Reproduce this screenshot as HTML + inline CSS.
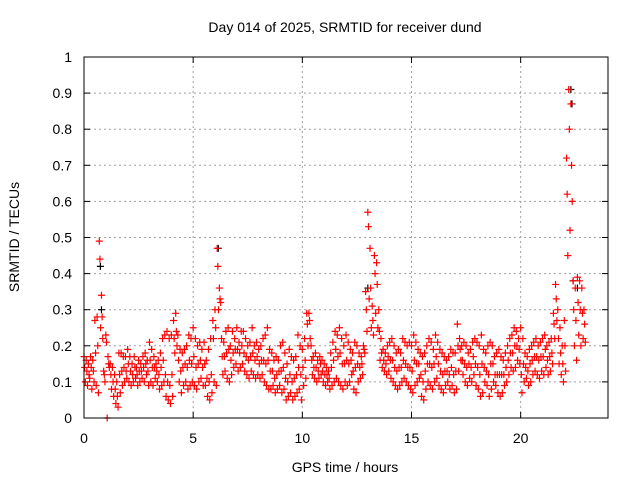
<!DOCTYPE html>
<html><head><meta charset="utf-8"><style>
html,body{margin:0;padding:0;background:#fff;}
svg{display:block;font-family:"Liberation Sans",sans-serif;}
</style></head><body>
<svg id="chart" width="640" height="480">
<rect width="640" height="480" fill="#fff"/>
<text x="345" y="32" font-size="14" text-anchor="middle">Day 014 of 2025, SRMTID for receiver dund</text>
<text x="345" y="472" font-size="14" text-anchor="middle">GPS time / hours</text>
<text transform="translate(19,237) rotate(-90)" font-size="14" text-anchor="middle">SRMTID / TECUs</text>
<g id="grid"></g>
<g id="ticks"></g>
<g id="black"></g>
<g id="red"></g>
<rect x="84" y="57" width="524" height="361" fill="none" stroke="#000" stroke-width="1"/>
</svg>
<script>
const xTicks=[0,5,10,15,20];
const yTicks=[0,0.1,0.2,0.3,0.4,0.5,0.6,0.7,0.8,0.9,1];
const yTickLabels=["0","0.1","0.2","0.3","0.4","0.5","0.6","0.7","0.8","0.9","1"];
const timeStep=0.1;
const redUpper=[.17,.16,.15,.17,.16,.27,.28,.49,.34,.13,
.23,.17,.15,.14,.12,.10,.18,.18,.17,.17,
.19,.17,.15,.17,.14,.16,.15,.17,.18,.16,
.21,.19,.17,.15,.16,.18,.22,.23,.24,.22,
.23,.27,.29,.23,.19,.18,.19,.20,.23,.22,
.25,.22,.20,.21,.19,.21,.16,.19,.22,.27,
.30,.47,.36,.22,.21,.24,.25,.20,.24,.22,
.25,.21,.24,.24,.22,.20,.21,.25,.20,.21,
.19,.20,.22,.23,.25,.19,.18,.16,.17,.16,
.20,.21,.18,.15,.19,.17,.16,.17,.23,.20,
.19,.22,.29,.29,.20,.17,.18,.16,.17,.16,
.15,.14,.13,.18,.21,.24,.23,.25,.22,.20,
.23,.21,.19,.18,.21,.20,.18,.17,.20,.35,
.57,.47,.31,.45,.43,.30,.22,.19,.18,.20,
.21,.22,.20,.18,.19,.18,.22,.21,.20,.21,
.20,.23,.21,.19,.18,.17,.18,.20,.22,.21,
.19,.23,.21,.19,.18,.17,.16,.17,.19,.18,
.18,.26,.22,.20,.21,.20,.18,.19,.21,.22,
.21,.20,.23,.19,.18,.20,.21,.20,.17,.18,
.19,.17,.16,.18,.20,.22,.23,.25,.24,.22,
.25,.22,.18,.17,.19,.20,.21,.22,.20,.21,
.22,.23,.20,.21,.22,.29,.37,.30,.25,.20,
.27,.72,.91,.87,.38,.36,.39,.38,.36,.30];
const redMid=[.14,.13,.12,.14,.13,.18,.20,.44,.28,.12,
.21,.15,.12,.10,.08,.06,.12,.13,.14,.13,
.15,.13,.12,.14,.12,.13,.13,.14,.15,.13,
.16,.14,.14,.13,.12,.14,.16,.12,.10,.09,
.12,.22,.24,.16,.13,.14,.15,.14,.16,.15,
.17,.14,.15,.16,.14,.15,.11,.10,.12,.22,
.25,.42,.33,.17,.17,.18,.19,.16,.18,.19,
.19,.18,.20,.18,.17,.16,.17,.18,.16,.17,
.15,.16,.16,.15,.16,.13,.13,.11,.12,.13,
.13,.14,.11,.10,.12,.10,.11,.12,.14,.12,
.14,.16,.26,.27,.16,.14,.14,.13,.15,.13,
.12,.12,.11,.14,.16,.19,.17,.18,.15,.15,
.16,.15,.16,.13,.14,.15,.14,.15,.19,.30,
.53,.36,.27,.40,.37,.24,.18,.16,.15,.17,
.16,.16,.14,.13,.14,.14,.16,.15,.14,.14,
.13,.16,.15,.15,.12,.10,.13,.15,.15,.14,
.15,.17,.15,.13,.12,.13,.13,.12,.14,.12,
.13,.20,.19,.16,.15,.14,.15,.14,.17,.15,
.14,.12,.15,.14,.13,.12,.15,.15,.12,.12,
.12,.12,.12,.14,.16,.18,.18,.20,.20,.19,
.12,.15,.14,.13,.15,.16,.17,.17,.16,.17,
.17,.19,.16,.17,.18,.26,.33,.22,.18,.15,
.20,.62,.80,.70,.30,.27,.32,.30,.29,.26];
const redLower=[.10,.09,.11,.08,.10,.09,.07,.25,.22,.10,
.00,.14,.08,.06,.04,.03,.07,.09,.10,.11,
.10,.09,.10,.11,.09,.10,.11,.10,.12,.09,
.10,.09,.11,.10,.08,.09,.10,.06,.05,.04,
.06,.18,.20,.10,.07,.09,.10,.08,.09,.10,
.09,.08,.10,.11,.09,.09,.06,.05,.07,.10,
.09,.30,.32,.12,.13,.11,.10,.12,.14,.15,
.13,.14,.15,.13,.12,.11,.13,.12,.11,.12,
.11,.12,.10,.09,.08,.08,.09,.07,.08,.09,
.07,.08,.05,.06,.07,.05,.06,.07,.08,.05,
.09,.11,.20,.22,.12,.11,.10,.11,.12,.10,
.09,.10,.08,.09,.10,.11,.10,.09,.08,.10,
.09,.10,.12,.08,.07,.10,.11,.12,.18,.24,
.33,.25,.23,.29,.25,.16,.14,.13,.12,.13,
.11,.10,.09,.08,.09,.10,.11,.10,.09,.08,
.07,.09,.10,.11,.06,.05,.08,.10,.09,.08,
.10,.11,.09,.08,.07,.09,.10,.08,.09,.07,
.08,.13,.16,.12,.10,.09,.11,.10,.12,.09,
.08,.06,.07,.10,.09,.06,.08,.10,.09,.07,
.06,.07,.09,.10,.12,.14,.13,.14,.16,.15,
.07,.10,.11,.09,.10,.12,.13,.12,.11,.13,
.12,.14,.12,.13,.15,.22,.27,.15,.12,.10,
.13,.45,.52,.60,.20,.16,.23,.20,.22,.21];
const blackTimes=[0.75,0.8,6.15,13.0,22.3,22.35,22.4,22.6];
const blackValues=[0.42,0.30,0.47,0.36,0.91,0.87,0.38,0.36];

const X0=84,X1=608,Y0=418,Y1=57,XMAX=24;
const sx=t=>X0+t/XMAX*(X1-X0);
const sy=v=>Y0-v*(Y0-Y1);
const NS="http://www.w3.org/2000/svg";
function mk(tag,attrs,parent){const e=document.createElementNS(NS,tag);for(const k in attrs)e.setAttribute(k,attrs[k]);parent.appendChild(e);return e;}
const grid=document.getElementById('grid'),ticks=document.getElementById('ticks');
yTicks.forEach((v,i)=>{const y=sy(v);
 if(v>0&&v<1){const l=mk('line',{x1:X0,x2:X1,y1:y,y2:y,stroke:'#a0a0a0','stroke-dasharray':'2,3'},grid);
 
 }
 mk('line',{x1:X0,x2:X0+6,y1:y,y2:y,stroke:'#000'},ticks);
 mk('line',{x1:X1,x2:X1-6,y1:y,y2:y,stroke:'#000'},ticks);
 const t=mk('text',{x:72,y:y+5,'font-size':14,'text-anchor':'end'},ticks);t.textContent=yTickLabels[i];
 
 
});
xTicks.forEach(v=>{const x=sx(v);
 if(v>0){const l=mk('line',{x1:x,x2:x,y1:Y0,y2:Y1,stroke:'#a0a0a0','stroke-dasharray':'2,3'},grid);
 
 }
 mk('line',{x1:x,x2:x,y1:Y0,y2:Y0-6,stroke:'#000'},ticks);
 mk('line',{x1:x,x2:x,y1:Y1,y2:Y1+6,stroke:'#000'},ticks);
 const t=mk('text',{x:x,y:443,'font-size':14,'text-anchor':'middle'},ticks);t.textContent=String(v);
 
 
});
function plus(g,t,v,col){const x=sx(t),y=sy(v);
 const p=mk('path',{d:`M${x-3.5},${y}h7M${x},${y-3.5}v7`,stroke:col,'stroke-width':1.2,fill:'none'},g);
 
 }
const bg=document.getElementById('black'),rg=document.getElementById('red');
blackTimes.forEach((t,i)=>plus(bg,t,blackValues[i],'#000'));
redUpper.forEach((v,i)=>plus(rg,i*timeStep,v,'#f00'));
redMid.forEach((v,i)=>plus(rg,i*timeStep+0.03,v,'#f00'));
redLower.forEach((v,i)=>plus(rg,i*timeStep+0.06,v,'#f00'));
</script>
</body></html>
